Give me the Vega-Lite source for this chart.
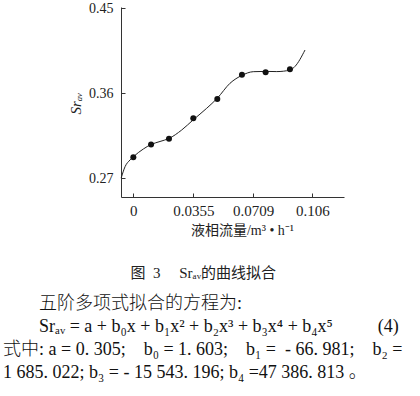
{
  "$schema": "https://vega.github.io/schema/vega-lite/v6.json",
  "width": 223,
  "height": 190,
  "autosize": "none",
  "padding": {"left": 121, "top": 7, "right": 76, "bottom": 199},
  "background": "white",
  "config": {"view": {"stroke": null}},
  "title": {
    "text": "\u200b\u3000\u3000\u3000\u3000\u3000\u3000\u3000\u3000\u00a0\u00a0图\u00a0\u00a03\u00a0\u00a0\u00a0\u00a0\u00a0Srₐᵥ的曲线拟合",
    "subtitle": [
      "\u200b\u3000\u3000五阶多项式拟合的方程为:",
      "\u200b\u3000\u3000Srₐᵥ = a + b₀x + b₁x² + b₂x³ + b₃x⁴ + b₄x⁵\u3000\u3000\u00a0\u00a0(4)",
      "式中: a = 0. 305;\u00a0\u00a0\u00a0\u00a0b₀ = 1. 603;\u00a0\u00a0\u00a0\u00a0b₁ =\u00a0\u00a0- 66. 981;\u00a0\u00a0\u00a0\u00a0b₂ =",
      "1 685. 022;\u00a0b₃ = - 15 543. 196;\u00a0b₄ =47 386. 813 。"
    ],
    "orient": "bottom",
    "anchor": "start",
    "frame": "group",
    "dx": -118,
    "offset": 29,
    "font": "Liberation Serif, Noto Sans CJK SC",
    "fontSize": 15,
    "fontWeight": "normal",
    "color": "#222",
    "subtitleFont": "Liberation Serif, Noto Sans CJK SC",
    "subtitleFontSize": 18,
    "subtitleFontWeight": 300,
    "subtitleColor": "#111",
    "subtitlePadding": 14,
    "subtitleLineHeight": 23
  },
  "datasets": {
    "points": [
      {"x": 0.0, "y": 0.2922},
      {"x": 0.0105, "y": 0.3058},
      {"x": 0.0211, "y": 0.3119},
      {"x": 0.0355, "y": 0.3335},
      {"x": 0.0497, "y": 0.354},
      {"x": 0.0643, "y": 0.3797},
      {"x": 0.0783, "y": 0.3822},
      {"x": 0.0927, "y": 0.3854}
    ],
    "curve": [
      {"x": -0.0072, "y": 0.2702},
      {"x": -0.0049, "y": 0.2823},
      {"x": -0.0019, "y": 0.2895},
      {"x": 0.0, "y": 0.2928},
      {"x": 0.0059, "y": 0.3010},
      {"x": 0.0105, "y": 0.3058},
      {"x": 0.0158, "y": 0.3090},
      {"x": 0.0211, "y": 0.3122},
      {"x": 0.0286, "y": 0.3211},
      {"x": 0.0355, "y": 0.3320},
      {"x": 0.0434, "y": 0.3441},
      {"x": 0.0497, "y": 0.3548},
      {"x": 0.0572, "y": 0.3706},
      {"x": 0.0643, "y": 0.3790},
      {"x": 0.0710, "y": 0.3829},
      {"x": 0.0783, "y": 0.3832},
      {"x": 0.0849, "y": 0.3830},
      {"x": 0.0927, "y": 0.3846},
      {"x": 0.0957, "y": 0.3885},
      {"x": 0.1016, "y": 0.4058}
    ]
  },
  "layer": [
    {
      "data": {"name": "curve"},
      "mark": {"type": "line", "color": "#222", "strokeWidth": 1, "interpolate": "monotone"},
      "encoding": {
        "x": {
          "field": "x", "type": "quantitative",
          "scale": {"domain": [-0.0073, 0.1247], "nice": false, "zero": false},
          "axis": {
            "values": [0, 0.0355, 0.0709, 0.106],
            "format": ".4~f",
            "grid": false,
            "title": "液相流量/m³ • h⁻¹",
            "titleFont": "Liberation Serif, Noto Sans CJK SC",
            "titleFontSize": 14,
            "titleFontWeight": "normal",
            "titleColor": "#222",
            "titleX": 121,
            "titleY": 26,
            "labelFont": "Liberation Serif",
            "labelFontSize": 15,
            "labelColor": "#222",
            "labelPadding": 10,
            "tickSize": -4,
            "tickColor": "#333",
            "domainColor": "#333",
            "labelFlush": false,
            "labelOverlap": false
          }
        },
        "y": {
          "field": "y", "type": "quantitative",
          "scale": {"domain": [0.2502, 0.4514], "nice": false, "zero": false},
          "axis": {
            "values": [0.27, 0.36, 0.45],
            "format": ".2f",
            "grid": false,
            "title": "Srₐᵥ",
            "titleFont": "Liberation Serif",
            "titleFontStyle": "italic",
            "titleFontSize": 15,
            "titleFontWeight": "normal",
            "titleColor": "#222",
            "titleX": -38,
            "titleY": 96,
            "labelFont": "Liberation Serif",
            "labelFontSize": 14,
            "labelColor": "#222",
            "labelPadding": 12,
            "tickSize": -4,
            "tickColor": "#333",
            "domainColor": "#333",
            "labelFlush": false,
            "labelOverlap": false
          }
        }
      }
    },
    {
      "data": {"name": "points"},
      "mark": {"type": "circle", "color": "#111", "size": 36, "opacity": 1},
      "encoding": {
        "x": {"field": "x", "type": "quantitative"},
        "y": {"field": "y", "type": "quantitative"}
      }
    }
  ]
}
